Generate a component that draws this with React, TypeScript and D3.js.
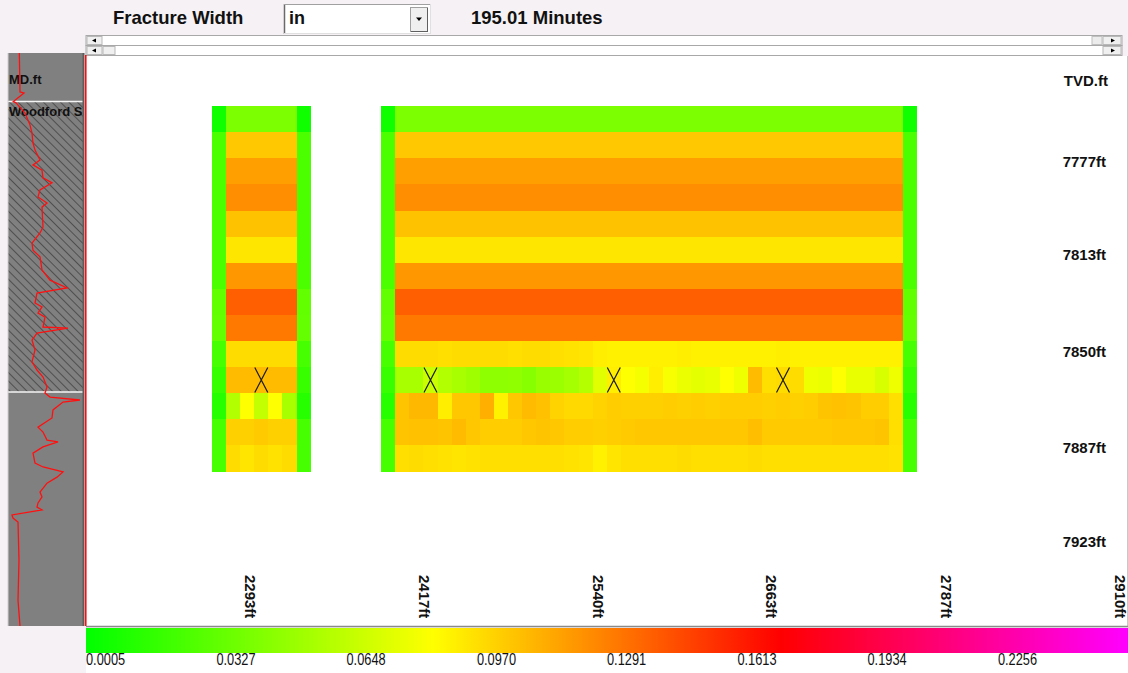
import React from "react";
import * as d3 from "d3";

const W = 1128;
const H = 673;

// Axis ticks
const tvdTicks = [7777, 7813, 7850, 7887, 7923];
const distTicks = [2293, 2417, 2540, 2663, 2787, 2910];
const legendTicks = [0.0005, 0.0327, 0.0648, 0.097, 0.1291, 0.1613, 0.1934, 0.2256];
const widthMin = 0.0005;
const widthMax = 0.2577;

// Fracture grid geometry (ft)
const layerTops = [7756, 7766, 7776, 7786, 7796, 7806, 7816, 7826, 7836, 7846, 7856, 7866, 7876, 7886];
const layerThickness = 10;
const cellLength = 10;
const wingStarts = [2266, 2386];
const wingColumns = [7, 38];

// Fracture width (in): layers 0-8 are uniform along both wings
const layerWidth = [0.0422, 0.1047, 0.1181, 0.1238, 0.1067, 0.0946, 0.1208, 0.14, 0.1316];
// Tip columns of each wing, per layer
const tipWidth = [0.006, 0.026, 0.026, 0.026, 0.026, 0.026, 0.026, 0.033, 0.034, 0.024, 0.019, 0.013, 0.024, 0.024];

// Layers 9-13, interior cells of the first wing
const wing1Layer9 = [0.098, 0.098, 0.098, 0.098, 0.098];
const wing1Layer10 = [0.109, 0.109, 0.109, 0.109, 0.109];
const wing1Layer11 = [0.06, 0.086, 0.066, 0.086, 0.057];
const wing1Layer12 = [0.102, 0.102, 0.104, 0.102, 0.102];
const wing1Layer13 = [0.098, 0.095, 0.098, 0.096, 0.098];

// Layers 9-13, interior cells of the second wing
const wing2Layer9 = [0.098, 0.098, 0.098, 0.097, 0.098, 0.098, 0.098, 0.098, 0.097, 0.098, 0.098, 0.097, 0.096, 0.095, 0.092, 0.091, 0.091, 0.091, 0.091, 0.091, 0.092, 0.091, 0.091, 0.091, 0.091, 0.091, 0.091, 0.092, 0.091, 0.091, 0.091, 0.091, 0.091, 0.091, 0.091, 0.091];
const wing2Layer10 = [0.057, 0.057, 0.068, 0.06, 0.057, 0.054, 0.048, 0.048, 0.049, 0.046, 0.052, 0.053, 0.056, 0.061, 0.076, 0.092, 0.086, 0.083, 0.092, 0.084, 0.08, 0.077, 0.079, 0.086, 0.081, 0.109, 0.097, 0.098, 0.098, 0.081, 0.08, 0.086, 0.079, 0.079, 0.073, 0.081];
const wing2Layer11 = [0.106, 0.11, 0.11, 0.092, 0.105, 0.105, 0.113, 0.091, 0.105, 0.109, 0.107, 0.101, 0.099, 0.099, 0.101, 0.103, 0.102, 0.102, 0.102, 0.103, 0.102, 0.103, 0.102, 0.103, 0.103, 0.103, 0.102, 0.103, 0.102, 0.103, 0.106, 0.107, 0.106, 0.103, 0.103, 0.097];
const wing2Layer12 = [0.106, 0.107, 0.107, 0.106, 0.109, 0.105, 0.103, 0.103, 0.103, 0.105, 0.106, 0.105, 0.103, 0.103, 0.102, 0.103, 0.104, 0.105, 0.105, 0.105, 0.105, 0.105, 0.105, 0.105, 0.105, 0.108, 0.104, 0.104, 0.104, 0.104, 0.104, 0.105, 0.105, 0.105, 0.106, 0.097];
const wing2Layer13 = [0.097, 0.098, 0.097, 0.096, 0.095, 0.096, 0.097, 0.097, 0.097, 0.097, 0.097, 0.097, 0.096, 0.095, 0.091, 0.095, 0.097, 0.097, 0.097, 0.097, 0.098, 0.097, 0.097, 0.097, 0.097, 0.098, 0.097, 0.097, 0.097, 0.097, 0.097, 0.097, 0.097, 0.097, 0.097, 0.096];

const lowerLayers = [
  [wing1Layer9, wing1Layer10, wing1Layer11, wing1Layer12, wing1Layer13],
  [wing2Layer9, wing2Layer10, wing2Layer11, wing2Layer12, wing2Layer13],
];

// Perforation clusters
const perfDist = [2301, 2421, 2551, 2671];
const perfTvd = 7861;

// Gamma-ray log (TVD ft, API)
const gammaTvd = [7735.6, 7750.5, 7750.9, 7754.2, 7754.7, 7758.6, 7763.2, 7766.3, 7770.1, 7772.8, 7776.6, 7778.5, 7780.5, 7783.5, 7785.4, 7788.1, 7790.8, 7793.1, 7794.7, 7802.3, 7804.6, 7808.5, 7811.2, 7813.8, 7818.8, 7822.7, 7825.7, 7827.7, 7831.5, 7833.0, 7835.3, 7836.9, 7840.7, 7841.1, 7843.0, 7845.7, 7849.5, 7854.1, 7857.2, 7859.9, 7863.7, 7866.0, 7867.6, 7868.7, 7869.5, 7872.5, 7875.6, 7879.1, 7881.0, 7884.1, 7884.8, 7886.7, 7889.1, 7892.9, 7894.4, 7896.3, 7898.3, 7900.6, 7904.0, 7905.9, 7908.2, 7909.8, 7910.9, 7912.8, 7914.0, 7915.5, 7930.1, 7945.5, 7955.4];
const gammaApi = [22.6, 24, 32, 10.6, 16, 34, 44, 48, 50, 54, 64, 50, 68, 70, 88, 64, 60, 78, 68, 70, 64, 48, 50, 64, 68, 84, 118, 58, 54, 68, 60, 74, 70, 120, 58, 48, 54, 48, 58, 70, 78, 74, 84, 144, 110, 90, 88, 60, 70, 78, 100, 70, 50, 54, 70, 110, 98, 78, 64, 68, 60, 58, 68, 8, 10, 20, 22, 20, 24];

// Formation zone
const zoneName = "Woodford Shale";
const zoneTop = 7754.2;
const zoneBase = 7865.6;

const xScale = d3.scaleLinear().domain([2293, 2910]).range([250, 1120]);
const yScale = d3.scaleLinear().domain([7777, 7923]).range([161, 541.5]);
const span = widthMax - widthMin;
const color = d3
  .scaleLinear<string>()
  .domain([widthMin, widthMin + span / 3, widthMin + (2 * span) / 3, widthMax])
  .range(["#00ff00", "#ffff00", "#ff0000", "#ff00ff"])
  .interpolate(d3.interpolateRgb);
const legendX = d3.scaleLinear().domain([widthMin, widthMax]).range([86, 1128]);
const gammaX = d3.scaleLinear().domain([0, 152]).range([8, 84]);

const sans = "'Liberation Sans', Arial, sans-serif";

function cellValue(w: number, c: number, r: number): number {
  const n = wingColumns[w];
  if (c === 0 || c === n - 1) return tipWidth[r];
  if (r < layerWidth.length) return layerWidth[r];
  return lowerLayers[w][r - layerWidth.length][c - 1];
}

function ScrollBar({ y, thumbLeft, thumbRight }: { y: number; thumbLeft?: number; thumbRight?: number }) {
  const h = 10;
  return (
    <g>
      <rect x={86} y={y} width={1036} height={h} fill="#ffffff" stroke="#a8a8a8" strokeWidth={1} />
      <rect x={87} y={y + 1} width={15} height={h - 2} fill="#f0f0f0" stroke="#b8b8b8" />
      <path d={`M96,${y + 3} L92,${y + 5} L96,${y + 7} Z`} fill="#000" />
      {thumbLeft !== undefined && (
        <rect x={thumbLeft} y={y + 1} width={12} height={h - 2} fill="#f0f0f0" stroke="#b8b8b8" />
      )}
      {thumbRight !== undefined && (
        <rect x={thumbRight} y={y + 1} width={10} height={h - 2} fill="#ececec" stroke="#c0c0c0" />
      )}
      <rect x={1103} y={y + 1} width={18} height={h - 2} fill="#f0f0f0" stroke="#b8b8b8" />
      <path d={`M1111,${y + 3} L1115,${y + 5} L1111,${y + 7} Z`} fill="#000" />
    </g>
  );
}

export default function App() {
  const stops = color.domain().map((d, i) => ({ offset: (legendX(d) - 86) / (1128 - 86), c: color.range()[i] }));

  const cells: React.ReactNode[] = [];
  wingStarts.forEach((start, w) => {
    for (let c = 0; c < wingColumns[w]; c++) {
      const x0 = xScale(start + c * cellLength);
      const x1 = xScale(start + (c + 1) * cellLength);
      layerTops.forEach((top, r) => {
        const y0 = yScale(top);
        const y1 = yScale(top + layerThickness);
        cells.push(
          <rect
            key={`${w}-${c}-${r}`}
            x={x0}
            y={y0}
            width={x1 - x0 + 0.4}
            height={y1 - y0 + 0.4}
            fill={color(cellValue(w, c, r))}
          />
        );
      });
    }
  });

  const gammaLine = d3
    .line<number>()
    .x((d) => gammaX(d))
    .y((_, i) => yScale(gammaTvd[i]))(gammaApi);

  const perfHalfW = 6.5;
  const perfHalfH = 12.5;

  return (
    <svg width={W} height={H} style={{ display: "block", position: "absolute", left: 0, top: 0 }}>
      <defs>
        <linearGradient id="legendGrad" x1="0" x2="1" y1="0" y2="0">
          {stops.map((s, i) => (
            <stop key={i} offset={s.offset} stopColor={s.c} />
          ))}
        </linearGradient>
        <pattern id="hatch" patternUnits="userSpaceOnUse" width={6} height={6} patternTransform="rotate(-45)">
          <line x1={0} y1={0} x2={0} y2={6} stroke="#1e1e1e" strokeWidth={1} />
        </pattern>
        <clipPath id="trackClip">
          <rect x={8} y={53} width={75} height={573} />
        </clipPath>
      </defs>

      {/* window background */}
      <rect x={0} y={0} width={W} height={H} fill="#f5f1f5" />

      {/* toolbar */}
      <text x={113} y={23.5} fontFamily={sans} fontWeight="bold" fontSize={18.5} fill="#111">
        Fracture Width
      </text>
      <rect x={284.5} y={4.5} width={146} height={29} fill="#ffffff" />
      <line x1={284.5} y1={4} x2={284.5} y2={34} stroke="#6a6a6a" strokeWidth={1.5} />
      <line x1={284} y1={4.5} x2={431} y2={4.5} stroke="#a0a0a0" />
      <line x1={430.5} y1={4} x2={430.5} y2={34} stroke="#e0e0e0" />
      <line x1={284} y1={33.5} x2={431} y2={33.5} stroke="#e0e0e0" />
      <text x={289} y={24} fontFamily={sans} fontWeight="bold" fontSize={18} fill="#111">
        in
      </text>
      <rect x={410.5} y={7.5} width={17} height={24} fill="#f0f0f0" stroke="#a0a0a0" />
      <line x1={427.5} y1={8} x2={427.5} y2={32} stroke="#606060" />
      <line x1={411} y1={31.5} x2={428} y2={31.5} stroke="#606060" />
      <path d="M416,17.5 L422,17.5 L419,21 Z" fill="#000" />
      <text x={471} y={23.5} fontFamily={sans} fontWeight="bold" fontSize={18.5} fill="#111">
        195.01 Minutes
      </text>

      <ScrollBar y={35.5} thumbRight={1092} />
      <ScrollBar y={45.5} thumbLeft={103} />

      {/* plot area */}
      <rect x={86} y={56} width={1042} height={570} fill="#ffffff" />
      <line x1={1127.5} y1={56} x2={1127.5} y2={626} stroke="#c8c8c8" />

      {/* log track */}
      <g clipPath="url(#trackClip)">
        <rect x={8} y={53} width={75} height={573} fill="#808080" />
        <rect x={8} y={yScale(zoneTop)} width={75} height={yScale(zoneBase) - yScale(zoneTop)} fill="url(#hatch)" />
        <line x1={8} x2={83} y1={yScale(zoneTop)} y2={yScale(zoneTop)} stroke="#f4f4f4" strokeWidth={1.5} />
        <line x1={8} x2={83} y1={yScale(zoneBase)} y2={yScale(zoneBase)} stroke="#f4f4f4" strokeWidth={1.5} />
        <text x={9} y={84} fontFamily={sans} fontWeight="bold" fontSize={13} fill="#111">
          MD.ft
        </text>
        <text x={9} y={115.5} fontFamily={sans} fontWeight="bold" fontSize={13} fill="#111">
          {zoneName}
        </text>
        <path d={gammaLine ?? ""} fill="none" stroke="#ff1010" strokeWidth={1.3} />
      </g>
      <line x1={8} y1={53} x2={8} y2={626} stroke="#cfcfcf" />
      <rect x={82.5} y={53} width={2} height={573} fill="#5c5c5c" />
      <line x1={85.8} y1={55} x2={85.8} y2={626} stroke="#ff0000" strokeWidth={1.5} />

      {/* fracture width grid */}
      <g shapeRendering="crispEdges">{cells}</g>

      {/* perforations */}
      {perfDist.map((d) => {
        const cx = xScale(d);
        const cy = yScale(perfTvd);
        return (
          <path
            key={d}
            d={`M${cx - perfHalfW},${cy - perfHalfH} L${cx + perfHalfW},${cy + perfHalfH} M${cx + perfHalfW},${cy - perfHalfH} L${cx - perfHalfW},${cy + perfHalfH}`}
            stroke="#1a1a1a"
            strokeWidth={1.2}
            fill="none"
          />
        );
      })}

      {/* TVD axis */}
      <text x={1108} y={80} textAnchor="end" dominantBaseline="central" fontFamily={sans} fontWeight="bold" fontSize={15} fill="#111">
        TVD.ft
      </text>
      {tvdTicks.map((t) => (
        <text key={t} x={1106} y={yScale(t)} textAnchor="end" dominantBaseline="central" fontFamily={sans} fontWeight="bold" fontSize={15} fill="#111">
          {`${t}ft`}
        </text>
      ))}

      {/* distance axis */}
      {distTicks.map((t) => (
        <text
          key={t}
          transform={`translate(${xScale(t)},575) rotate(90)`}
          textAnchor="start"
          dominantBaseline="central"
          fontFamily={sans}
          fontWeight="bold"
          fontSize={15}
          fill="#111"
        >
          {`${t}ft`}
        </text>
      ))}

      {/* colour legend */}
      <line x1={86} x2={1128} y1={626.5} y2={626.5} stroke="#8a8a8a" strokeWidth={1.5} />
      <rect x={86} y={628} width={1042} height={25} fill="url(#legendGrad)" />
      <rect x={86} y={653} width={1042} height={20} fill="#ffffff" />
      {legendTicks.map((t) => (
        <text
          key={t}
          transform={`translate(${legendX(t)},665) scale(0.8,1)`}
          fontFamily={sans}
          fontSize={16}
          fill="#111"
        >
          {t.toFixed(4)}
        </text>
      ))}
    </svg>
  );
}
